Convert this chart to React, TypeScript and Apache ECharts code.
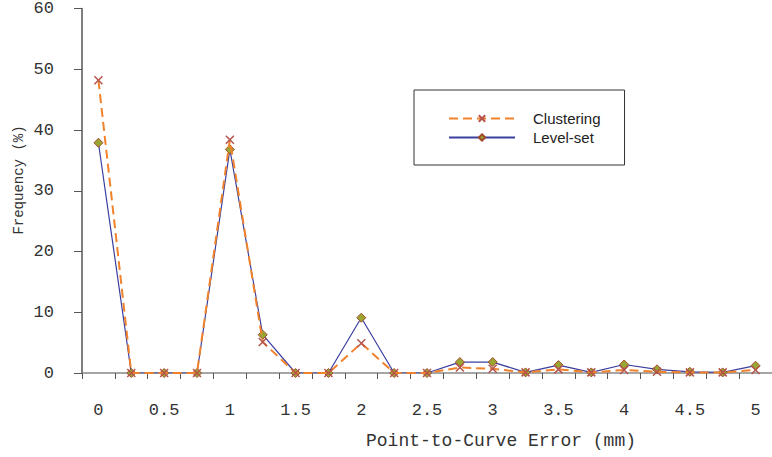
import React, { useEffect, useRef } from "react";
import * as echarts from "echarts";

const categories = [
  "0", "0.25", "0.5", "0.75", "1", "1.25", "1.5", "1.75", "2", "2.25", "2.5",
  "2.75", "3", "3.25", "3.5", "3.75", "4", "4.25", "4.5", "4.75", "5",
];
const clustering = [
  48.2, 0, 0, 0, 38.4, 5.1, 0, 0, 4.9, 0, 0,
  0.9, 0.7, 0.1, 0.6, 0.1, 0.5, 0.2, 0.1, 0.1, 0.5,
];
const levelSet = [
  37.9, 0, 0, 0, 36.8, 6.3, 0, 0, 9.1, 0, 0,
  1.8, 1.8, 0.1, 1.3, 0.1, 1.4, 0.6, 0.2, 0.1, 1.2,
];
const yTicks = { min: 0, max: 60, interval: 10 };
const seriesNames = ["Clustering", "Level-set"];
const xTitle = "Point-to-Curve Error (mm)";
const yTitle = "Frequency (%)";

const MONO = "'Liberation Mono', 'Courier New', monospace";
const SANS = "'Liberation Sans', Arial, sans-serif";

export default function App() {
  const ref = useRef<HTMLDivElement>(null);
  useEffect(() => {
    if (!ref.current) return;
    const chart = echarts.init(ref.current, null, { renderer: "svg" });
    chart.setOption({
      animation: false,
      backgroundColor: "#ffffff",
      grid: { left: 82, right: 0, top: 8, bottom: 84, containLabel: false },
      legend: {
        orient: "vertical",
        left: 414,
        top: 90,
        padding: [21, 24, 20, 34],
        itemWidth: 66,
        itemHeight: 8,
        itemGap: 4,
        backgroundColor: "#ffffff",
        borderColor: "#333333",
        borderWidth: 1,
        borderRadius: 0,
        textStyle: { fontFamily: SANS, fontSize: 15, color: "#222", padding: [0, 0, 0, 13] },
        data: seriesNames,
      },
      xAxis: {
        type: "category",
        data: categories,
        boundaryGap: true,
        axisLine: { lineStyle: { color: "#888", width: 1.5 } },
        axisTick: { show: true, interval: 0, length: 6, lineStyle: { color: "#555" } },
        axisLabel: {
          interval: 1,
          margin: 29,
          fontFamily: MONO,
          fontSize: 17,
          color: "#333",
        },
        splitLine: { show: false },
      },
      yAxis: {
        type: "value",
        min: yTicks.min,
        max: yTicks.max,
        interval: yTicks.interval,
        axisLine: { show: true, lineStyle: { color: "#555", width: 1.5 } },
        axisTick: { show: true, length: 8, lineStyle: { color: "#555" } },
        axisLabel: { margin: 28, fontFamily: MONO, fontSize: 17, color: "#333" },
        splitLine: { show: false },
      },
      graphic: [
        {
          type: "text",
          x: 501,
          y: 441,
          style: {
            text: xTitle,
            fontFamily: MONO,
            fontSize: 18,
            fill: "#333",
            align: "center",
            verticalAlign: "middle",
          },
        },
        {
          type: "text",
          x: 19,
          y: 180,
          rotation: Math.PI / 2,
          style: {
            text: yTitle,
            fontFamily: MONO,
            fontSize: 14,
            fill: "#333",
            align: "center",
            verticalAlign: "middle",
          },
        },
      ],
      series: [
        {
          name: seriesNames[0],
          type: "line",
          data: clustering,
          symbol: "path://M0,0L10,10M10,0L0,10",
          symbolSize: 8,
          showSymbol: true,
          lineStyle: { color: "#f0822c", width: 2, type: [9, 5] },
          itemStyle: { color: "#b5534c", borderColor: "#b5534c", borderWidth: 1.5 },
          z: 3,
        },
        {
          name: seriesNames[1],
          type: "line",
          data: levelSet,
          symbol: "diamond",
          symbolSize: 9,
          showSymbol: true,
          lineStyle: { color: "#3b3f9e", width: 1.2 },
          itemStyle: { color: "#9aa632", borderColor: "#a04a2a", borderWidth: 1 },
          z: 2,
        },
      ],
    });
    return () => chart.dispose();
  }, []);
  return (
    <div
      ref={ref}
      style={{ position: "absolute", left: 0, top: 0, width: 772, height: 457 }}
    />
  );
}
